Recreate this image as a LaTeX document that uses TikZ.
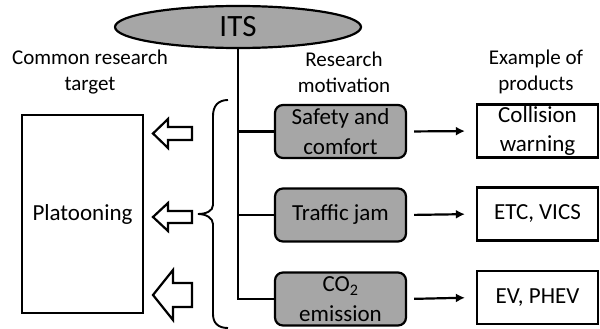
\documentclass[tikz,border=0pt]{standalone}
\usepackage{fontspec}
\setmainfont{Carlito}
\usetikzlibrary{shapes.geometric,arrows.meta}
\definecolor{itsgray}{RGB}{166,166,166}
\begin{document}
\begin{tikzpicture}[x=1pt,y=-1pt,line width=2.2pt,
  heading/.style={align=center,inner sep=0pt,font=\fontsize{21}{25.6}\selectfont},
  motive/.style={draw,fill=itsgray,rounded corners=8pt,minimum width=131pt,minimum height=53pt,
    align=center,inner sep=0pt,font=\fontsize{23}{29.5}\selectfont},
  product/.style={draw,fill=white,minimum width=121pt,minimum height=53pt,
    align=center,inner sep=0pt,font=\fontsize{23}{29.5}\selectfont},
  link/.style={-{Latex[length=9pt,width=9pt]},shorten <=7pt,shorten >=11pt},
  blockarrow/.style={draw,fill=white,line join=miter}]
\useasboundingbox (0,0) rectangle (600,329);

% root
\node[ellipse,draw,fill=itsgray,minimum width=246pt,minimum height=42pt,inner sep=0pt,
  font=\fontsize{31}{36}\selectfont] (its) at (238,27) {ITS};

% column headings
\node[heading] (hcommon) at (90,72) {Common research\\target};
\node[heading] (hmotive) at (344,72) {Research\\motivation};
\node[heading] (hproduct) at (536,72) {Example of\\products};

% research motivations
\node[motive] (safe) at (340.5,131.5) {Safety and\\comfort};
\node[motive] (jam)  at (340.5,215) {Traffic jam};
\node[motive] (co2)  at (340.5,299) {CO\textsubscript{2}\\emission};

% products
\node[product] (warn) at (537.5,131) {Collision\\warning};
\node[product] (etc)  at (537.5,214) {ETC, VICS};
\node[product] (ev)   at (537.5,297.5) {EV, PHEV};

% common target
\node[draw,minimum width=121pt,minimum height=198pt,inner sep=0pt,
  font=\fontsize{23}{28}\selectfont] (plat) at (82.5,214) {Platooning};

% tree from the root to the motivations
\draw (its.south) -- (its.south |- co2.west) -- (co2.west);
\draw (its.south |- safe.west) -- (safe.west);
\draw (its.south |- jam.west) -- (jam.west);

% motivation -> product
\draw[link] (safe.east) -- (warn.west);
\draw[link] (jam.east) -- (etc.west);
\draw[link] (co2.east) -- (ev.west);

% brace gathering the motivations
\draw[line width=1.9pt] (228,100) .. controls (218,100) and (213,106) .. (213,116)
  -- (213,205) .. controls (213,211) and (206,214) .. (198,214)
  .. controls (206,214) and (213,218) .. (213,224)
  -- (213,314) .. controls (213,323) and (218,328) .. (228,328);

% hollow arrows pointing to the common target
\draw[blockarrow] (153,133.5) -- (168,119) -- (168,127) -- (192,127) -- (192,140)
  -- (168,140) -- (168,148) -- cycle;
\draw[blockarrow] (153,217) -- (168,203) -- (168,211) -- (192,211) -- (192,223)
  -- (168,223) -- (168,231) -- cycle;
\draw[blockarrow] (153,295) -- (173,270) -- (173,283) -- (192,283) -- (192,307)
  -- (173,307) -- (173,320) -- cycle;
\end{tikzpicture}
\end{document}
